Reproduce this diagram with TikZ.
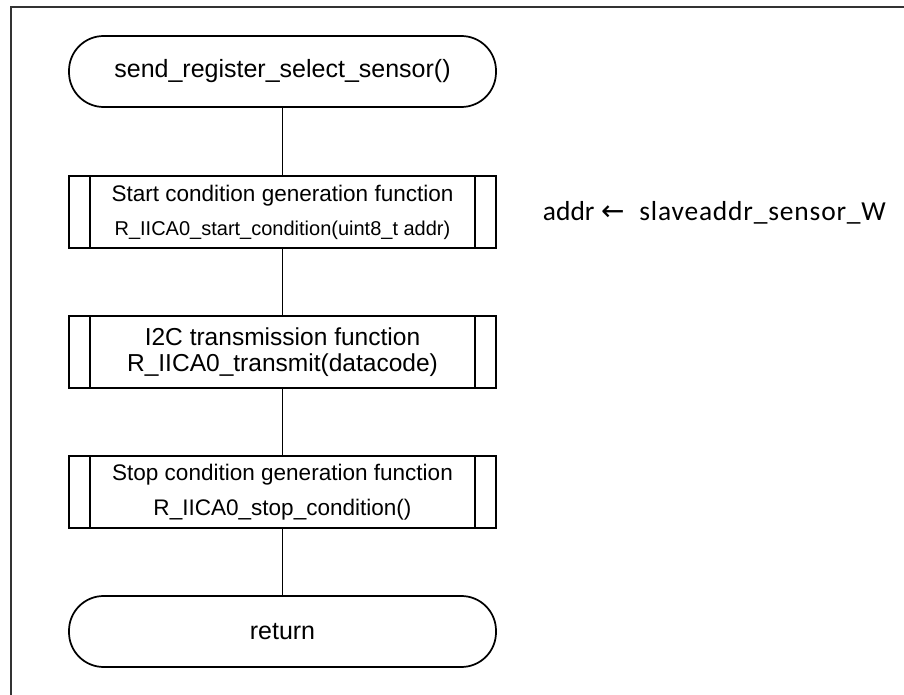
\documentclass[tikz,border=0pt]{standalone}
\usepackage{fontspec}
\setmainfont{Liberation Sans}
\newfontfamily\carlito{Carlito}
\newfontfamily\arrowfont{DejaVu Sans}
\usetikzlibrary{calc}
\begin{document}
\begin{tikzpicture}[x=0.75pt,y=-0.75pt,
  term/.style={draw, line width=1.3pt, rounded corners=26pt, minimum width=320.25pt, minimum height=53.25pt, inner sep=0pt, align=center},
  proc/.style={draw, line width=1.3pt, minimum width=320.25pt, minimum height=54pt, inner sep=0pt, align=center},
  link/.style={line width=1.3pt},
  frame/.style={line width=0.8pt, draw=black!80}]
\useasboundingbox (0,0) rectangle (904,695);
\draw[frame] (11,695) -- (11,7) -- (904,7);
\node[term, font=\fontsize{18.75pt}{22pt}\selectfont] (start) at (282.5,71.5) {send\_register\_select\_sensor()};
\node[proc, font=\fontsize{16.9pt}{25.5pt}\selectfont] (b1) at (282.5,212) {Start condition generation function\\\fontsize{15pt}{25.5pt}\selectfont R\_IICA0\_start\_condition(uint8\_t addr)};
\node[proc, font=\fontsize{18.4pt}{19.5pt}\selectfont] (b2) at (282.5,352) {I2C transmission function\\R\_IICA0\_transmit(datacode)};
\node[proc, font=\fontsize{16.9pt}{26.25pt}\selectfont] (b3) at (282.5,492) {Stop condition generation function\\R\_IICA0\_stop\_condition()};
\node[term, font=\fontsize{18.75pt}{22pt}\selectfont] (ret) at (282.5,631.5) {return};
\foreach \n in {b1,b2,b3}{
  \draw[link] ($(\n.north west)+(22,0)$) -- ($(\n.south west)+(22,0)$);
  \draw[link] ($(\n.north east)+(-22,0)$) -- ($(\n.south east)+(-22,0)$);
}
\draw[link] (start) -- (b1);
\draw[link] (b1) -- (b2);
\draw[link] (b2) -- (b3);
\draw[link] (b3) -- (ret);
\node[anchor=base west, inner sep=0pt, font=\carlito\fontsize{20.6pt}{24pt}\selectfont] (asg) at (542.7,221)
  {addr\hspace{5pt}{\arrowfont\fontsize{21pt}{24pt}\selectfont ←}\hspace{11pt}{\addfontfeatures{LetterSpace=3}slaveaddr\_sensor\_W}};
\end{tikzpicture}
\end{document}
